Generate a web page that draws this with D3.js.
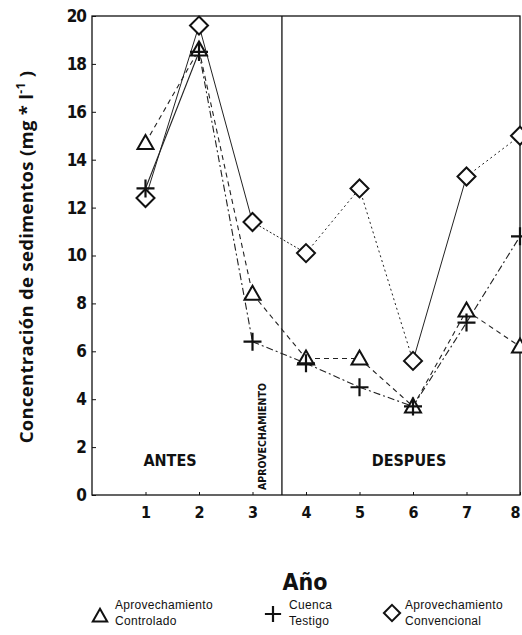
<!DOCTYPE html>
<html>
<head>
<meta charset="utf-8">
<script src="https://cdn.jsdelivr.net/npm/d3@7"></script>
<style>
  html, body { margin: 0; padding: 0; background: #fff; }
  svg { display: block; }
</style>
</head>
<body>
<svg id="chart" width="522" height="635"></svg>
<script>
// Year on the x axis
const years = [1, 2, 3, 4, 5, 6, 7, 8];
// Sediment concentration (mg * l^-1) per catchment
const controlado   = [14.7, 18.6, 8.4, 5.7, 5.7, 3.7, 7.7, 6.2];
const testigo      = [12.8, 18.5, 6.4, 5.5, 4.5, 3.7, 7.2, 10.8];
const convencional = [12.4, 19.6, 11.4, 10.1, 12.8, 5.6, 13.3, 15.0];
const yTicks = [0, 2, 4, 6, 8, 10, 12, 14, 16, 18, 20];
const xTicks = [1, 2, 3, 4, 5, 6, 7, 8];
const harvestYear = 3.55;

(function () {
const svg = d3.select("#chart");
const plotL = 92, plotR = 520, plotT = 16, plotB = 495;
const x = d3.scaleLinear().domain([0, 8]).range([plotL, plotR]);
const y = d3.scaleLinear().domain([0, 20]).range([plotB, plotT]);
const numFont = "'DejaVu Sans Condensed', 'DejaVu Sans', sans-serif";

// frame
svg.append("rect").attr("x", plotL).attr("y", plotT)
  .attr("width", plotR - plotL).attr("height", plotB - plotT)
  .attr("fill", "none").attr("stroke", "#111").attr("stroke-width", 1.3);

// y axis
const yAxis = d3.axisLeft(y).tickValues(yTicks).tickSize(-4).tickPadding(6);
const gy = svg.append("g").attr("transform", `translate(${plotL},0)`).call(yAxis);
gy.select(".domain").remove();
gy.selectAll("line").attr("stroke", "#111");
gy.selectAll("text").attr("font-family", numFont).attr("font-weight", "bold")
  .attr("font-size", 17).attr("fill", "#111").attr("letter-spacing", -1);

// x axis
const xAxis = d3.axisBottom(x).tickValues(xTicks).tickSize(-3).tickPadding(12);
const gx = svg.append("g").attr("transform", `translate(0,${plotB})`).call(xAxis);
gx.select(".domain").remove();
gx.selectAll("line").attr("stroke", "#111");
gx.selectAll("text").attr("font-family", numFont).attr("font-weight", "bold")
  .attr("font-size", 16).attr("fill", "#111")
  .attr("dx", d => d === 8 ? -5 : 0);

// harvest divider
svg.append("line").attr("x1", x(harvestYear)).attr("x2", x(harvestYear))
  .attr("y1", plotT).attr("y2", plotB).attr("stroke", "#111").attr("stroke-width", 1.3);
svg.append("text")
  .attr("transform", `translate(${x(harvestYear) - 16},${plotB - 5}) rotate(-90)`)
  .attr("font-family", numFont).attr("font-weight", "bold").attr("font-size", 10.5)
  .attr("fill", "#111").text("APROVECHAMIENTO");

// period labels
svg.append("text").attr("x", 170).attr("y", 466).attr("text-anchor", "middle")
  .attr("font-family", numFont).attr("font-weight", "bold").attr("font-size", 16)
  .attr("fill", "#111").text("ANTES");
svg.append("text").attr("x", 409).attr("y", 466).attr("text-anchor", "middle")
  .attr("font-family", numFont).attr("font-weight", "bold").attr("font-size", 16)
  .attr("fill", "#111").text("DESPUES");

// axis titles
const yTitle = svg.append("text")
  .attr("transform", `translate(33,257) rotate(-90)`)
  .attr("text-anchor", "middle")
  .attr("font-family", "'Open Sans', sans-serif").attr("font-weight", 700)
  .attr("font-size", 18.5).attr("letter-spacing", 0.3).attr("fill", "#111");
yTitle.append("tspan").text("Concentración de sedimentos (mg * l");
yTitle.append("tspan").attr("dy", -8).attr("font-size", 12).text("-1");
yTitle.append("tspan").attr("dy", 8).text(" )");

svg.append("text").attr("x", 305).attr("y", 590).attr("text-anchor", "middle")
  .attr("font-family", numFont).attr("font-weight", "bold").attr("font-size", 23)
  .attr("fill", "#111").text("Año");

// series lines, drawn segment by segment so each stretch keeps its stroke pattern
const series = [
  { name: "controlado", values: controlado, dash: ["5,4", "5,4", "5,4", "5,4", "5,4", "5,4", "5,4"], w: 1.1 },
  { name: "testigo", values: testigo, dash: [null, "7,3,2,3", "7,3,2,3", "7,3,2,3", "7,3,2,3", "7,3,2,3", "7,3,2,3"], w: 1.1 },
  { name: "convencional", values: convencional, dash: [null, null, "2,2", "2,3", "2,3", null, "2,3"], w: 1.0 }
];
series.forEach(s => {
  const pts = years.map((yr, i) => [yr, s.values[i]]);
  d3.pairs(pts).forEach(([a, b], i) => {
    svg.append("line")
      .attr("x1", x(a[0])).attr("y1", y(a[1]))
      .attr("x2", x(b[0])).attr("y2", y(b[1]))
      .attr("stroke", "#222").attr("stroke-width", s.w)
      .attr("stroke-dasharray", s.dash[i]);
  });
});

// marker shapes
function drawMarker(g, kind, cx, cy, scale) {
  const k = scale || 1;
  if (kind === "triangle") {
    g.append("path")
      .attr("d", `M${cx},${cy - 8 * k} L${cx + 8 * k},${cy + 6 * k} L${cx - 8 * k},${cy + 6 * k} Z`)
      .attr("fill", "#fff").attr("stroke", "#111").attr("stroke-width", 2);
  } else if (kind === "diamond") {
    g.append("path")
      .attr("d", `M${cx},${cy - 9 * k} L${cx + 9 * k},${cy} L${cx},${cy + 9 * k} L${cx - 9 * k},${cy} Z`)
      .attr("fill", "#fff").attr("stroke", "#111").attr("stroke-width", 2);
  } else {
    g.append("path")
      .attr("d", `M${cx - 9 * k},${cy} H${cx + 9 * k} M${cx},${cy - 9 * k} V${cy + 9 * k}`)
      .attr("fill", "none").attr("stroke", "#111").attr("stroke-width", 2.2);
  }
}
const markers = svg.append("g");
years.forEach((yr, i) => drawMarker(markers, "diamond", x(yr), y(convencional[i])));
years.forEach((yr, i) => drawMarker(markers, "triangle", x(yr), y(controlado[i])));
years.forEach((yr, i) => drawMarker(markers, "plus", x(yr), y(testigo[i])));

// legend
const legendFont = "'Liberation Sans', Arial, sans-serif";
const legend = [
  { kind: "triangle", mx: 100, my: 616, tx: 115, lines: ["Aprovechamiento", "Controlado"] },
  { kind: "plus", mx: 273, my: 614, tx: 289, lines: ["Cuenca", "Testigo"] },
  { kind: "diamond", mx: 392, my: 613, tx: 405, lines: ["Aprovechamiento", "Convencional"] }
];
legend.forEach(l => {
  drawMarker(svg, l.kind, l.mx, l.my, 0.9);
  l.lines.forEach((t, j) => {
    svg.append("text").attr("x", l.tx)
      .attr("y", 609 + j * 16)
      .attr("font-family", legendFont).attr("font-size", 12).attr("letter-spacing", 0.3)
      .attr("fill", "#111")
      .text(t);
  });
});
})();
</script>
</body>
</html>
